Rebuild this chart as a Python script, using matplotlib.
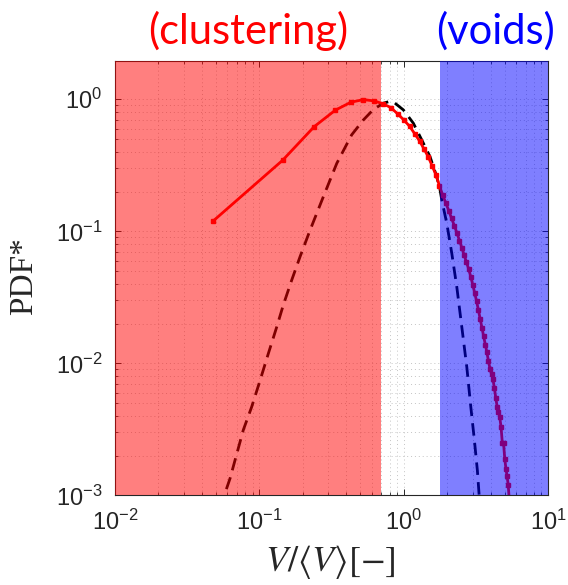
import matplotlib
matplotlib.use('Agg')
import matplotlib.pyplot as plt
import numpy as np

v_meas = [0.048, 0.145, 0.240, 0.336, 0.431, 0.526, 0.622, 0.717, 0.813, 0.908,
          1.004, 1.099, 1.195, 1.290, 1.386, 1.481, 1.577, 1.672, 1.768, 1.863,
          1.959, 2.054, 2.150, 2.245, 2.341, 2.436, 2.532, 2.627, 2.723, 2.818,
          2.914, 3.009, 3.105, 3.200, 3.296, 3.391, 3.487, 3.582, 3.678, 3.773,
          3.869, 3.964, 4.060, 4.155, 4.251, 4.346, 4.442, 4.537, 4.633, 4.728,
          4.824, 4.919, 5.015, 5.110, 5.206, 5.302, 5.397]
pdf_meas = [0.120, 0.345, 0.620, 0.826, 0.949, 0.993, 0.971, 0.925, 0.865, 0.775,
            0.695, 0.624, 0.546, 0.482, 0.418, 0.366, 0.312, 0.268, 0.222, 0.188,
            0.164, 0.143, 0.125, 0.110, 0.097, 0.085, 0.0747, 0.0659, 0.0582, 0.052,
            0.0454, 0.0395, 0.0341, 0.0296, 0.0253, 0.0216, 0.0186, 0.0160, 0.0139, 0.0121,
            0.0104, 0.0091, 0.0083, 0.0076, 0.0065, 0.0055, 0.0047, 0.0043, 0.0039, 0.0033,
            0.0025, 0.0025, 0.0019, 0.0016, 0.0014, 0.0012, 0.0009]

# random (Poisson) reference curve, dashed black
v_rand = [0.055, 0.0578, 0.0627, 0.0774, 0.0885, 0.1013, 0.1155, 0.132, 0.1466, 0.1677,
          0.1914, 0.2246, 0.2777, 0.344, 0.436, 0.526, 0.617, 0.723, 0.80, 0.848,
          0.995, 1.167, 1.334, 1.523, 1.695, 1.787, 1.836, 1.989, 2.155, 2.333,
          2.527, 2.737, 2.917, 3.09, 3.24, 3.33, 3.40]
pdf_rand = [0.0008, 0.00104, 0.00135, 0.00313, 0.00469, 0.00747, 0.0119, 0.0189, 0.0277, 0.0428,
            0.0642, 0.102, 0.183, 0.327, 0.537, 0.697, 0.836, 0.933, 0.962, 0.955,
            0.830, 0.658, 0.492, 0.367, 0.259, 0.2055, 0.1726, 0.115, 0.068, 0.038,
            0.0189, 0.0094, 0.0047, 0.00262, 0.00155, 0.00102, 0.0008]

cluster_edge = 0.70
void_edge = 1.79

x_ticks = [1e-2, 1e-1, 1e0, 1e1]
x_labels = ['-2', '-1', '0', '1']
y_ticks = [1e-3, 1e-2, 1e-1, 1e0]
y_labels = ['-3', '-2', '-1', '0']

plt.rcParams['font.family'] = 'Liberation Sans'

fig = plt.figure(figsize=(5.68, 5.85), dpi=100)
ax = fig.add_axes([0.2025, 0.153, 0.7623, 0.7419])

ax.plot(v_rand, pdf_rand, color='black', lw=2.0, dashes=(4.5, 2.6), zorder=2)
ax.plot(v_meas, pdf_meas, color='red', lw=2.0, marker='s', ms=3.4, zorder=2.5)

# shaded regimes on top of the curves
ax.axvspan(1e-2, cluster_edge, color='red', alpha=0.5, lw=0, zorder=3)
ax.axvspan(void_edge, 1e1, color='blue', alpha=0.5, lw=0, zorder=3)

ax.set_xscale('log')
ax.set_yscale('log')
ax.set_xlim(1e-2, 1e1)
ax.set_ylim(1e-3, 1.93)

ax.set_xticks(x_ticks)
ax.set_xticklabels([r'$\mathregular{10^{%s}}$' % s for s in x_labels])
ax.set_yticks(y_ticks)
ax.set_yticklabels([r'$\mathregular{10^{%s}}$' % s for s in y_labels])

ax.grid(True, which='both', linestyle=(0, (1, 3)), color='#c4c4c4', lw=0.7)
ax.tick_params(which='both', direction='in', top=True, right=True, colors='#262626',
               labelsize=17)
ax.tick_params(which='major', length=4.5, width=0.7)
ax.tick_params(which='minor', length=2.5, width=0.6)
ax.tick_params(axis='x', pad=10)
ax.tick_params(axis='y', pad=9)
for sp in ax.spines.values():
    sp.set_color('#262626')
    sp.set_linewidth(0.8)

fig.text(330 / 568, 1 - 562 / 585, r'$V/\langle V\rangle[-]$', math_fontfamily='stix',
         fontsize=26, ha='center', va='center', color='#262626')
fig.text(24 / 568, 1 - 276 / 585, 'PDF*', family='Liberation Serif', fontsize=24,
         rotation=90, ha='center', va='center', color='#262626')

fig.text(248 / 568, 1 - 44 / 585, '(clustering)', family='Lato', fontsize=30,
         color='#FF0000', ha='center', va='baseline')
fig.text(496 / 568, 1 - 44 / 585, '(voids)', family='Lato', fontsize=30,
         color='#0000FF', ha='center', va='baseline')

fig.savefig('out.png', dpi=100)
